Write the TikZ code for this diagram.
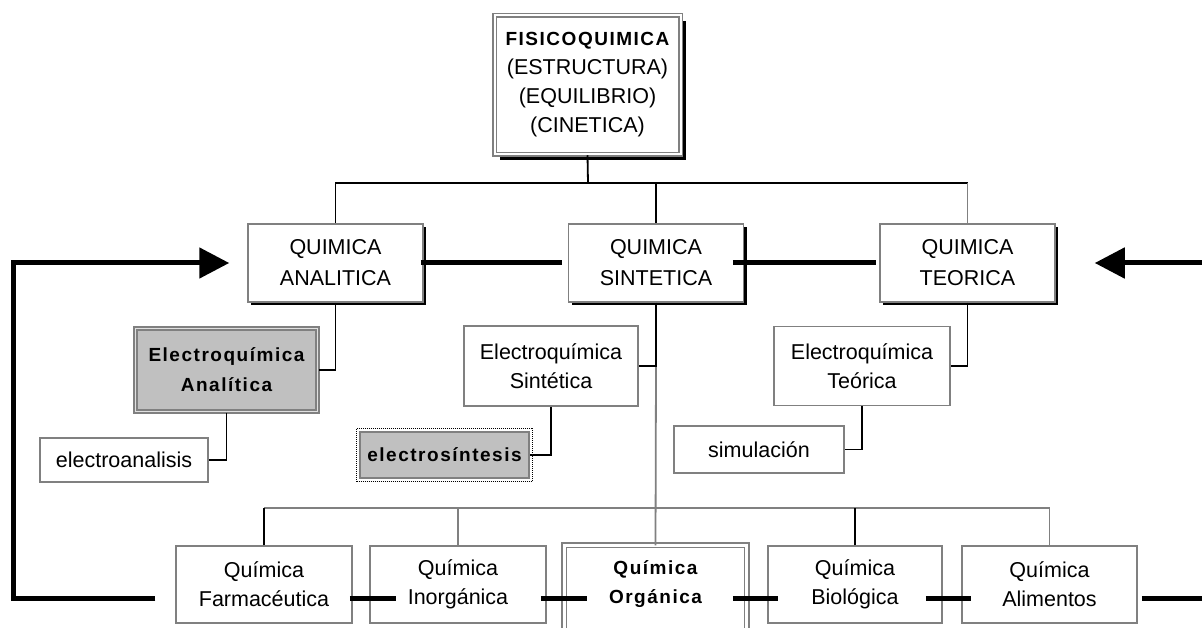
\documentclass[tikz,border=0pt]{standalone}
\usepackage{fontspec}
\setmainfont{Liberation Sans}
\newfontfamily\spbold[LetterSpace=8]{Liberation Sans}
\usetikzlibrary{arrows.meta,shadows,calc}
\definecolor{lgrey}{HTML}{808080}
\definecolor{boxfill}{HTML}{C0C0C0}
\definecolor{lightline}{HTML}{E0E0E0}
\newcommand{\bsp}[1]{{\fontsize{19}{30}\selectfont\spbold\bfseries #1}}
\tikzset{
  box/.style={rectangle, draw=lgrey, line width=1.5pt, fill=white, inner sep=0pt,
    align=center, font=\fontsize{21.5}{29}\selectfont},
  topbox/.style={box, minimum width=175pt, minimum height=78pt,
    font=\fontsize{21.5}{31}\selectfont,
    general shadow={fill=black, shadow xshift=3pt, shadow yshift=-3pt}},
  fqbox/.style={box, double=white, double distance=2pt, minimum width=186pt,
    minimum height=139pt,
    general shadow={fill=black, shadow xshift=5.5pt, shadow yshift=-5.5pt}},
  eabox/.style={box, fill=boxfill, line width=2pt, double=lightline,
    double distance=1.2pt, minimum width=182pt, minimum height=83pt,
    font=\fontsize{19}{30}\selectfont},
  esybox/.style={box, fill=boxfill, minimum width=169pt, minimum height=46pt},
  lowbox/.style={box, minimum height=77pt},
  orgline/.style={draw=lgrey, line width=1.5pt, double=white, double distance=3pt},
  conn/.style={draw=black, line width=1.8pt},
  gconn/.style={draw=lgrey, line width=1.8pt},
  heavy/.style={draw=black, line width=5pt},
  bigtip/.style={-{Triangle[length=30pt,width=30pt]}}
}
\begin{document}
\begin{tikzpicture}[x=1pt,y=-1pt]
\useasboundingbox (0,0) rectangle (1202,628);
\clip (0,0) rectangle (1202,628);
\fill[white] (0,0) rectangle (1202,628);

% nodes
\node[fqbox] (fq) at (587.5,85) {\bsp{FISICOQUIMICA}\\(ESTRUCTURA)\\(EQUILIBRIO)\\(CINETICA)};
\node[topbox] (qa) at (335.5,263) {QUIMICA\\ANALITICA};
\node[topbox] (qs) at (656,263) {QUIMICA\\SINTETICA};
\node[topbox] (qt) at (967.5,263) {QUIMICA\\TEORICA};

\node[eabox] (ea) at (226.5,370) {\bsp{Electroquímica}\\\bsp{Analítica}};
\node[box, minimum width=168pt, minimum height=44pt] (el) at (124,460) {electroanalisis};
\node[box, minimum width=174pt, minimum height=80pt] (es) at (551,366) {Electroquímica\\Sintética};
\node[esybox] (esy) at (444.5,455) {\bsp{electrosíntesis}};
\draw[densely dotted, line width=1pt] ($(esy.south west)+(-3,3)$) rectangle ($(esy.north east)+(3,-3)$);
\node[box, minimum width=176pt, minimum height=79pt] (et) at (862,366) {Electroquímica\\Teórica};
\node[box, minimum width=170pt, minimum height=47pt] (si) at (759,449.5) {simulación};

\node[lowbox, minimum width=176pt] (ff) at (264,584.5) {Química\\Farmacéutica};
\node[lowbox, minimum width=176pt] (fi) at (458,584.5) {Química\\Inorgánica};
\node[lowbox, draw=none, minimum width=181pt] (fo) at (655.5,584.5) {\bsp{Química}\\\bsp{Orgánica}};
\draw[orgline] ($(fo.south west)+(0,30)$) -- (fo.north west) -- (fo.north east) -- ($(fo.south east)+(0,30)$);
\node[lowbox, minimum width=174pt] (fb) at (855,584.5) {Química\\Biológica};
\node[lowbox, minimum width=175pt] (fal) at (1049.5,584.5) {Química\\Alimentos};

% tree connectors
\coordinate (bus1) at (588,183);
\coordinate (bus2) at (656,508);
\draw[conn] (fq.south) -- (bus1);
\draw[conn] (qa.north) |- (bus1 -| qt.north);
\draw[conn] (qs.north) -- (qs.north |- bus1);
\draw[gconn] (qt.north) -- (qt.north |- bus1);

\draw[conn] (qa.south) |- (ea.east);
\draw[conn] (ea.south) |- (el.east);
\coordinate (jes) at (qs.south |- es.east);
\draw[gconn] (jes) -- (fo.north);
\draw[conn] (qs.south) -- (jes) -- (es.east);
\draw[conn] (es.south) |- (esy.east);
\draw[conn] (qt.south) |- (et.east);
\draw[conn] (et.south) |- (si.east);

\draw[gconn] (ff.north |- bus2) -- (fal.north |- bus2);
\draw[conn] (ff.north) -- (ff.north |- bus2);
\draw[gconn] (fi.north) -- (fi.north |- bus2);
\draw[conn] (fb.north) -- (fb.north |- bus2);
\draw[gconn] (fal.north) -- (fal.north |- bus2);

% heavy links
\coordinate (lt) at (13,263);
\coordinate (re) at (1202,598);
\coordinate (rt) at (1202,263);
\draw[heavy] ($(qa.east)+(-3,0)$) -- ($(qs.west)+(-5.5,0)$);
\draw[heavy] ($(qs.east)+(-11.5,0)$) -- ($(qt.west)+(-3,0)$);
\draw[heavy, bigtip] (rt) -- ($(qt.east)+(39,0)$);
\draw[heavy, bigtip] ($(ff.west)+(-20,13.5)$) -| (lt) -- ($(qa.west)+(-18,0)$);
\draw[heavy] ($(ff.east)+(-3,13.5)$) -- ($(fi.west)+(27,13.5)$);
\draw[heavy] ($(fi.east)+(-6,13.5)$) -- ($(fo.west)+(23,13.5)$);
\draw[heavy] ($(fo.east)+(-14,13.5)$) -- ($(fb.west)+(11,13.5)$);
\draw[heavy] ($(fb.east)+(-17,13.5)$) -- ($(fal.west)+(10,13.5)$);
\draw[heavy] ($(fal.east)+(4,13.5)$) -- (re);
\end{tikzpicture}
\end{document}
